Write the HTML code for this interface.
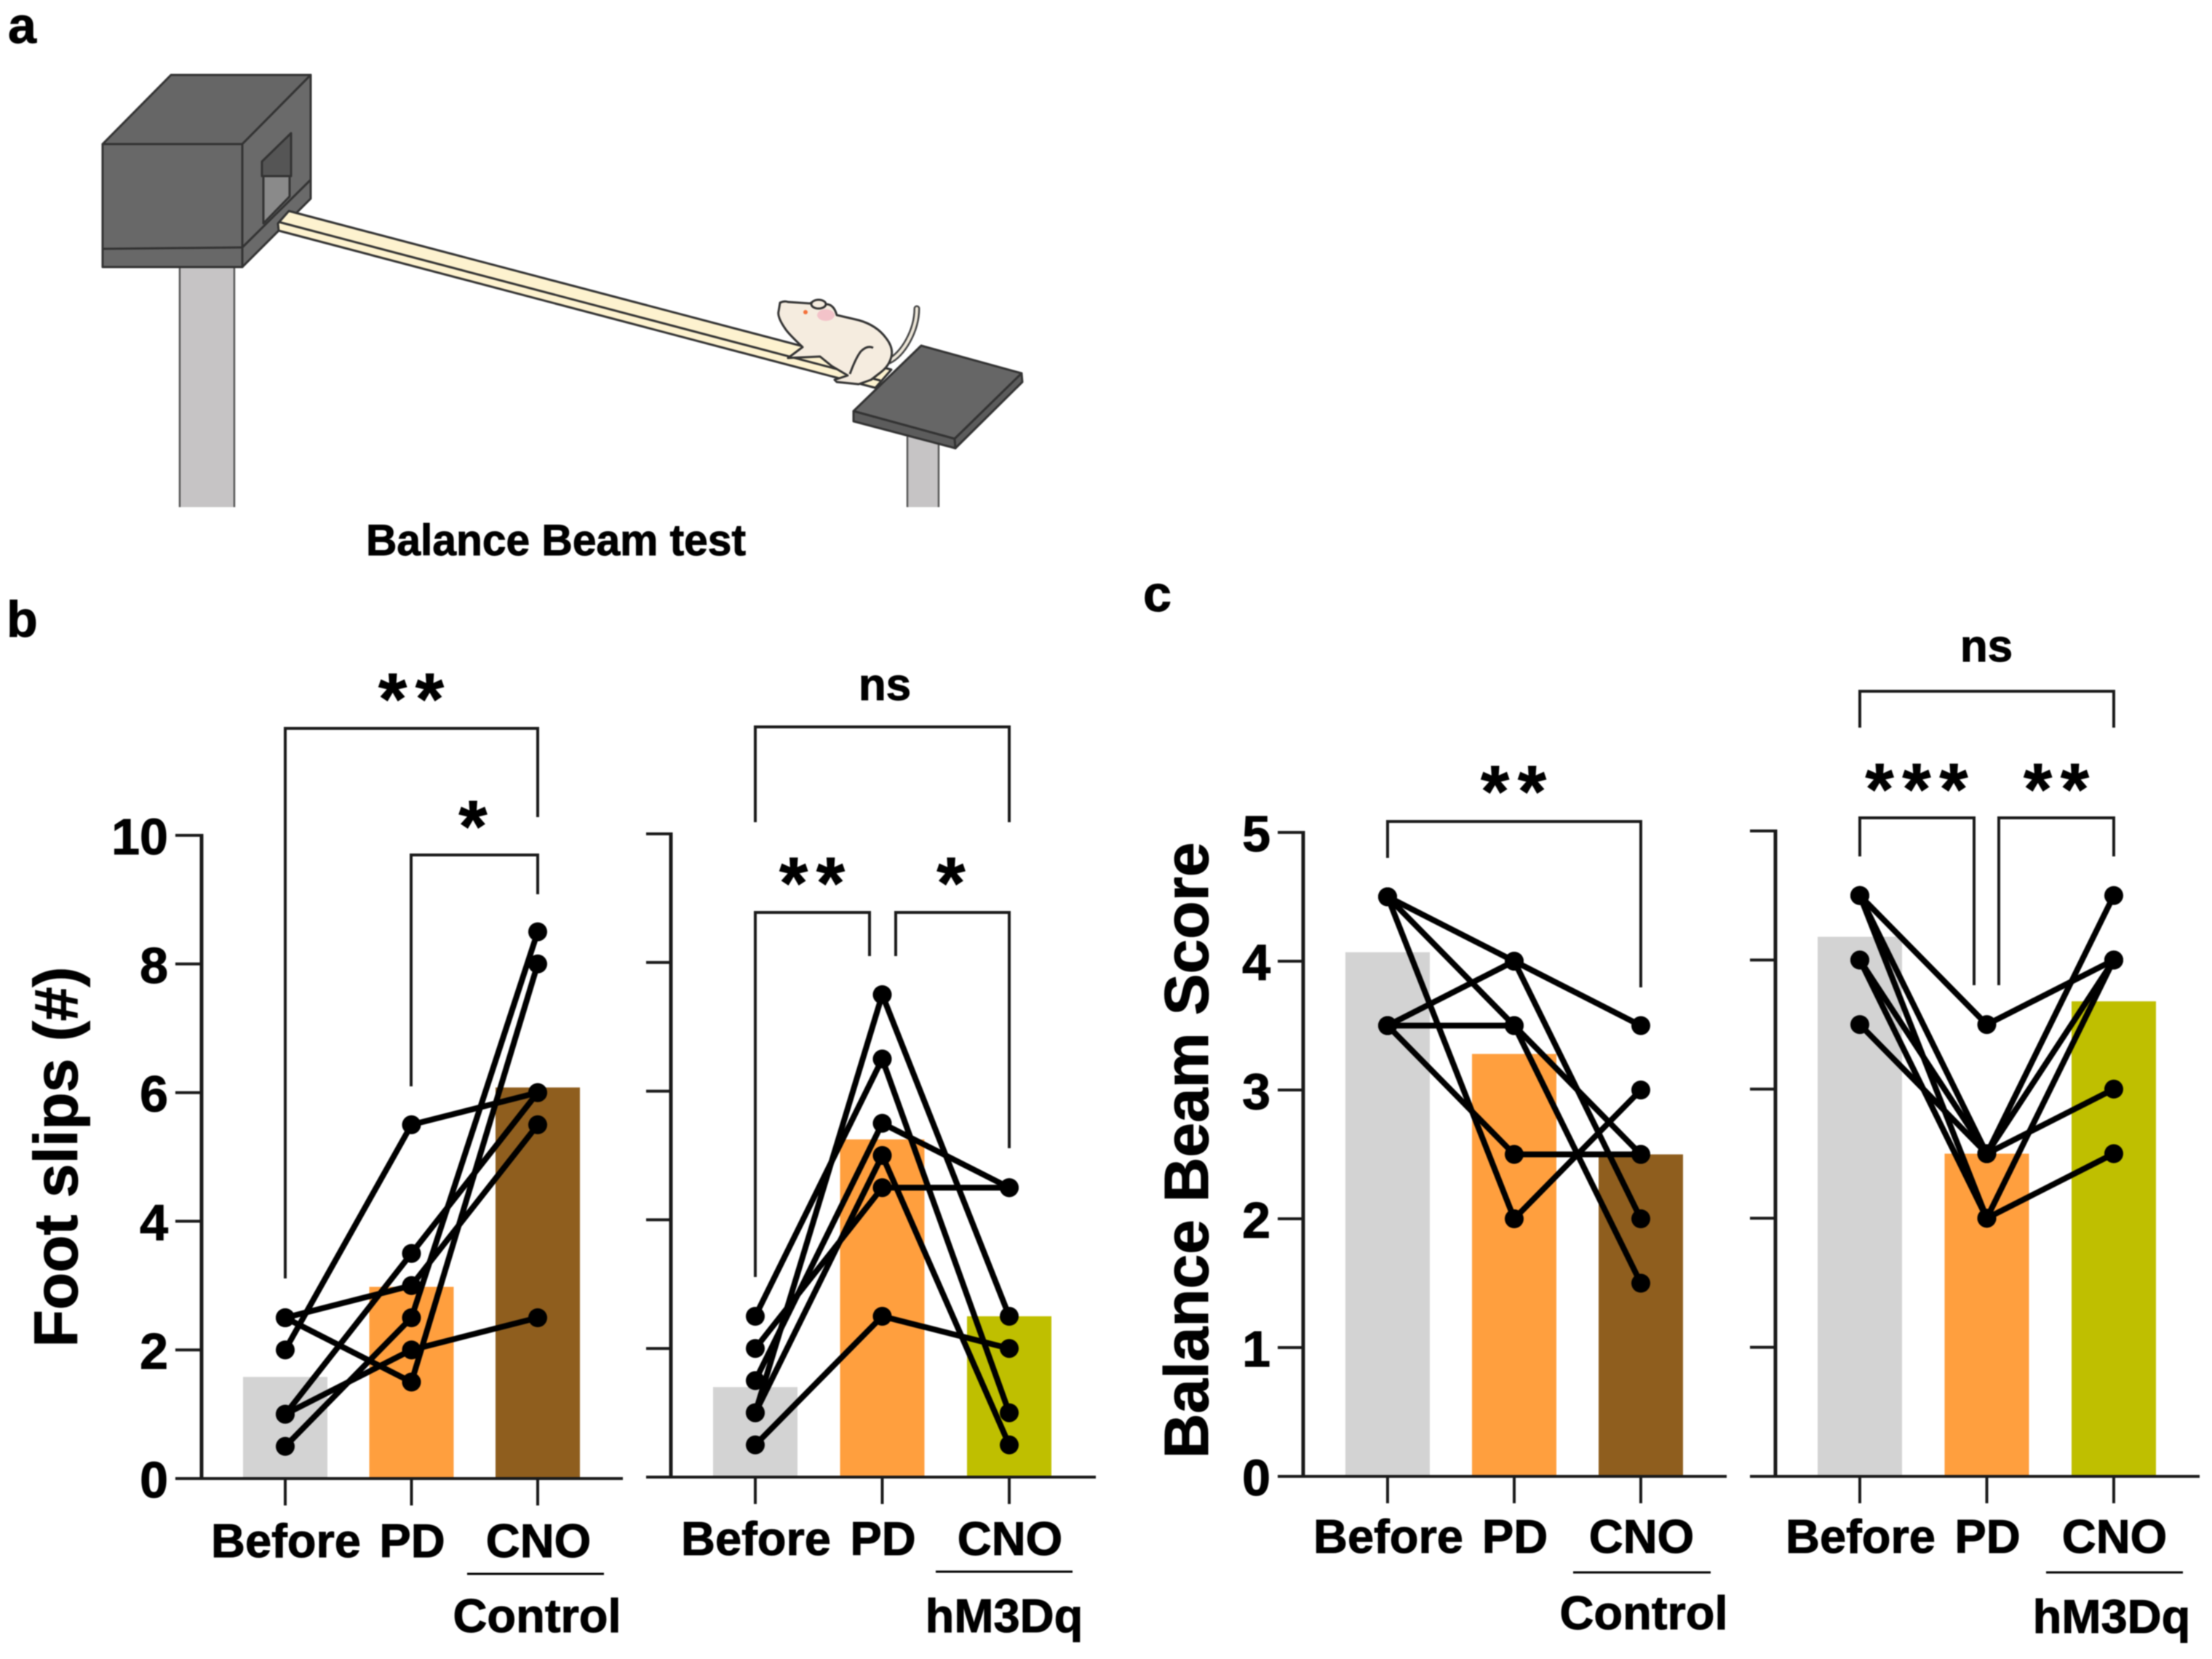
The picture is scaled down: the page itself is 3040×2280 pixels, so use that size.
<!DOCTYPE html>
<html lang="en">
<head>
<meta charset="utf-8">
<title>Balance Beam test</title>
<style>
html,body{margin:0;padding:0;background:#fff;width:3040px;height:2280px;overflow:hidden}
svg{display:block;filter:blur(.7px)}
text{font-family:"Liberation Sans",Arial,sans-serif;font-weight:700;fill:#000;stroke:#000;stroke-width:1px}
</style>
</head>
<body>
<svg id="figure" xmlns="http://www.w3.org/2000/svg" width="3040" height="2280" viewBox="0 0 3040 2280">
  <rect width="3040" height="2280" fill="#fff"/>

  <text x="11" y="59" font-size="70">a</text>
  <text x="9" y="875" font-size="70">b</text>
  <text x="1571" y="840" font-size="70">c</text>

  <g id="apparatus" stroke="#333" stroke-width="3" stroke-linejoin="round">
    <g>
      <rect x="247" y="367" width="75" height="330" fill="#c6c4c5" stroke="none"/>
      <path d="M247,367V697M322,367V697" fill="none" stroke="#555" stroke-width="2.5"/>
    </g>
    <g>
      <rect x="1247" y="600" width="43" height="97" fill="#c6c4c5" stroke="none"/>
      <path d="M1247,600V697M1290,600V697" fill="none" stroke="#555" stroke-width="2.5"/>
    </g>
    <polygon points="141,198 235,103 427,103 333,198" fill="#666"/>
    <rect x="141" y="198" width="192" height="169" fill="#686868"/>
    <line x1="141" y1="342" x2="333" y2="340"/>
    <polygon points="333,198 427,103 427,273 333,367" fill="#6a6a6a"/>
    <line x1="333" y1="340" x2="427" y2="247"/>
    <polygon points="360,222 400,183 400,242 360,242" fill="#555"/>
    <polygon points="362,242 398,242 398,270 362,307" fill="#8a8a8a"/>
    <polygon points="397,290 1225,508 1203,533 383,317 382,307" fill="#fdf2cf"/>
    <line x1="383" y1="305" x2="1210" y2="523"/>
    <g>
      <path d="M1222,496 C1240,488 1260,455 1260,424" fill="none" stroke="#444" stroke-width="9" stroke-linecap="round"/>
      <path d="M1222,496 C1240,488 1260,455 1260,424" fill="none" stroke="#ede6d8" stroke-width="4" stroke-linecap="round"/>
      <path d="M1072,416 Q1078,413 1083,415 L1113,417 Q1128,408 1135,418 Q1146,418 1150,433 L1180,440 Q1205,447 1218,465 Q1228,478 1225,490 Q1222,503 1210,512 L1197,522 L1180,528 L1150,525 L1147,522 L1165,516 L1143,503 L1127,490 L1083,492 L1103,477 Q1085,460 1080,453 Q1068,436 1070,428 Z" fill="#f5ecdf"/>
      <path d="M1200,478 Q1192,474 1183,483 Q1176,492 1168,514" fill="none"/>
      <ellipse cx="1125" cy="418" rx="10" ry="6" fill="#f5ecdf"/>
      <ellipse cx="1135" cy="433" rx="12" ry="8" fill="#f3c3c9" stroke="none"/>
      <circle cx="1107" cy="429" r="3" fill="#f4703a" stroke="none"/>
    </g>
    <polygon points="1266,475 1404,513 1312,603 1173,565" fill="#666"/>
    <polygon points="1173,565 1312,603 1313,616 1173,579" fill="#5c5c5c"/>
    <polygon points="1404,513 1405,525 1313,616 1312,603" fill="#5c5c5c"/>
  </g>
  <text x="764" y="763" font-size="60" text-anchor="middle" textLength="522" lengthAdjust="spacingAndGlyphs">Balance Beam test</text>

  <g id="bars-and-axes"></g>

  <g fill="none" stroke="#1a1a1a" stroke-width="4">
    <path d="M392,1757V1001H739V1123"/>
    <path d="M565,1493V1175H739V1229"/>
    <path d="M1038,1130V999H1387V1130"/>
    <path d="M1038,1755V1254H1195V1314"/>
    <path d="M1231,1314V1254H1387V1578"/>
    <path d="M1907,1179V1129H2255V1357"/>
    <path d="M2556,1000V950H2905V1000"/>
    <path d="M2556,1177V1124H2713V1354"/>
    <path d="M2747,1354V1124H2905V1177"/>
  </g>
  <g text-anchor="middle">
    <text x="571" y="995" font-size="100" letter-spacing="12">**</text>
    <text x="650" y="1170" font-size="100">*</text>
    <text x="1216" y="962" font-size="62">ns</text>
    <text x="1122" y="1248" font-size="100" letter-spacing="12">**</text>
    <text x="1307" y="1248" font-size="100">*</text>
    <text x="2086" y="1122" font-size="100" letter-spacing="12">**</text>
    <text x="2730" y="909" font-size="62">ns</text>
    <text x="2640" y="1119" font-size="100" letter-spacing="12">***</text>
    <text x="2832" y="1119" font-size="100" letter-spacing="12">**</text>
  </g>

  <g>
    <text transform="translate(106,1590) rotate(-90)" text-anchor="middle" font-size="84" textLength="523" lengthAdjust="spacingAndGlyphs">Foot slips (#)</text>
    <text transform="translate(1660,1581) rotate(-90)" text-anchor="middle" font-size="85" textLength="847" lengthAdjust="spacingAndGlyphs">Balance Beam Score</text>
  </g>

  <g font-size="65" text-anchor="middle">
    <line x1="642" y1="2163" x2="830" y2="2163" stroke="#000" stroke-width="3"/>
    <text x="738" y="2243">Control</text>
    <line x1="1286" y1="2160" x2="1474" y2="2160" stroke="#000" stroke-width="3"/>
    <text x="1380" y="2243">hM3Dq</text>
    <line x1="2162" y1="2161" x2="2351" y2="2161" stroke="#000" stroke-width="3"/>
    <text x="2259" y="2239">Control</text>
    <line x1="2812" y1="2161" x2="3000" y2="2161" stroke="#000" stroke-width="3"/>
    <text x="2902" y="2244">hM3Dq</text>
  </g>
</svg>
<script>
// Chart data
const categories = ['Before', 'PD', 'CNO'];
const slipsTicks = [0, 2, 4, 6, 8, 10];
const scoreTicks = [0, 1, 2, 3, 4, 5];

const slipsControlBars = [1.58, 2.98, 6.08];
const slipsControlSubjects = [
  [2.0, 5.5, 6.0],
  [2.5, 3.0, 5.5],
  [2.5, 1.5, 8.0],
  [1.0, 3.5, 6.0],
  [1.0, 2.0, 2.5],
  [0.5, 2.5, 8.5]
];

const slipsHm3dqBars = [1.4, 5.25, 2.5];
const slipsHm3dqSubjects = [
  [2.5, 6.5, 1.0],
  [2.0, 4.5, 4.5],
  [1.5, 5.5, 4.5],
  [1.0, 7.5, 2.5],
  [1.0, 5.0, 0.5],
  [0.5, 2.5, 2.0]
];

const scoreControlBars = [4.07, 3.28, 2.5];
const scoreControlSubjects = [
  [4.5, 4.0, 3.5],
  [3.5, 4.0, 2.0],
  [4.5, 3.5, 2.5],
  [3.5, 3.5, 1.5],
  [3.5, 2.5, 2.5],
  [4.5, 2.0, 3.0]
];

const scoreHm3dqBars = [4.18, 2.5, 3.68];
const scoreHm3dqSubjects = [
  [4.5, 3.5, 4.0],
  [4.5, 2.5, 4.5],
  [4.5, 2.0, 4.0],
  [4.0, 2.5, 4.0],
  [4.0, 2.0, 2.5],
  [3.5, 2.5, 3.0]
];

const controlColors = ['#d3d3d3', '#ff9f3e', '#8f5e1e'];
const hm3dqColors = ['#d3d3d3', '#ff9f3e', '#bfbf00'];

const NS = 'http://www.w3.org/2000/svg';
const root = document.getElementById('bars-and-axes');

function make(tag, parent, attrs, text) {
  const el = document.createElementNS(NS, tag);
  for (const k in attrs) el.setAttribute(k, attrs[k]);
  if (text !== undefined) el.textContent = text;
  parent.appendChild(el);
  return el;
}

function drawPanel(id, frame, ticks, bars, subjects, colors, labelTicks) {
  const yMax = ticks[ticks.length - 1];
  const xScale = i => frame.cat0 + i * frame.catStep;
  const yScale = v => frame.y0 - (v / yMax) * (frame.y0 - frame.yTop);

  const panel = make('g', root, {});
  
  

  bars.forEach((v, i) => {
    const bar = make('rect', panel, {
      x: xScale(i) - 58, y: yScale(v), width: 116, height: frame.y0 - yScale(v), fill: colors[i]
    });
    
    
  });

  const yAxis = make('line', panel, {
    x1: frame.axisX, x2: frame.axisX, y1: frame.yTop - 2, y2: frame.y0 + 2, stroke: '#1a1a1a', 'stroke-width': 5
  });
  
  

  const xAxis = make('line', panel, {
    x1: frame.tickLeft, x2: frame.xEnd, y1: frame.y0, y2: frame.y0, stroke: '#1a1a1a', 'stroke-width': 4
  });
  
  

  ticks.forEach(t => {
    const tick = make('line', panel, {
      x1: frame.tickLeft, x2: frame.axisX, y1: yScale(t), y2: yScale(t), stroke: '#1a1a1a', 'stroke-width': 4
    });
    
    
    if (labelTicks) {
      const lab = make('text', panel, {
        x: frame.tickLeft - 10, y: yScale(t) + 26, 'font-size': 70, 'text-anchor': 'end'
      }, String(t));
      
      
    }
  });

  categories.forEach((c, i) => {
    const tick = make('line', panel, {
      x1: xScale(i), x2: xScale(i), y1: frame.y0, y2: frame.y0 + 37, stroke: '#1a1a1a', 'stroke-width': 4
    });
    
    
    const lab = make('text', panel, {
      x: xScale(i) + 1, y: frame.labelY, 'font-size': 65, 'text-anchor': 'middle'
    }, c);
    
    
  });

  subjects.forEach((series, s) => {
    const pts = series.map((v, i) => xScale(i) + ',' + yScale(v)).join(' ');
    const line = make('polyline', panel, {
      points: pts, fill: 'none', stroke: '#000', 'stroke-width': 8, 'stroke-linejoin': 'round'
    });
    
    
  });
  subjects.forEach((series, s) => {
    series.forEach((v, i) => {
      const dot = make('circle', panel, { cx: xScale(i), cy: yScale(v), r: 13, fill: '#000' });
      
      
    });
  });
}

drawPanel('slips-control',
  { axisX: 277, tickLeft: 241, xEnd: 856, y0: 2032, yTop: 1148, cat0: 392, catStep: 173.5, labelY: 2140 },
  slipsTicks, slipsControlBars, slipsControlSubjects, controlColors, true);
drawPanel('slips-hm3dq',
  { axisX: 922, tickLeft: 888, xEnd: 1506, y0: 2030, yTop: 1146, cat0: 1038, catStep: 174.5, labelY: 2137 },
  slipsTicks, slipsHm3dqBars, slipsHm3dqSubjects, hm3dqColors, false);
drawPanel('score-control',
  { axisX: 1791, tickLeft: 1756, xEnd: 2373, y0: 2029, yTop: 1144, cat0: 1907, catStep: 174, labelY: 2134 },
  scoreTicks, scoreControlBars, scoreControlSubjects, controlColors, true);
drawPanel('score-hm3dq',
  { axisX: 2440, tickLeft: 2405, xEnd: 3023, y0: 2029, yTop: 1142, cat0: 2556, catStep: 174.5, labelY: 2134 },
  scoreTicks, scoreHm3dqBars, scoreHm3dqSubjects, hm3dqColors, false);
</script>
</body>
</html>
